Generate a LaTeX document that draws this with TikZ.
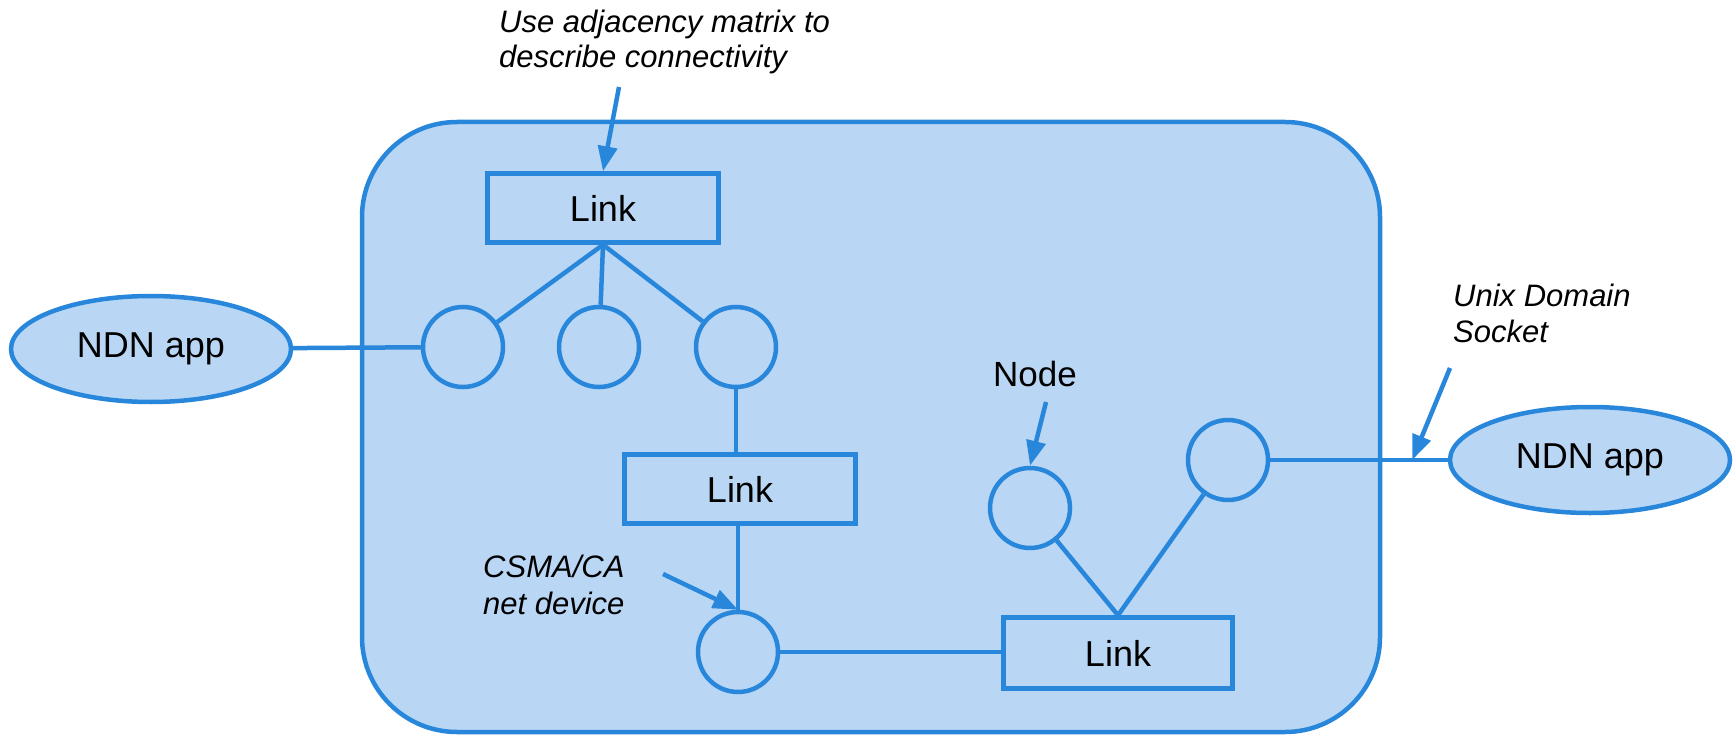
\documentclass[tikz,border=0pt]{standalone}
\usepackage{fontspec}
\setmainfont{Liberation Sans}
\usetikzlibrary{shapes.geometric,arrows.meta,calc}

\definecolor{netfill}{RGB}{185,215,245}
\definecolor{netline}{RGB}{40,135,219}

\tikzset{
  wire/.style={draw=netline, line width=4.5pt},
  pointer/.style={wire, -{Triangle[length=25pt,width=19pt]}},
  linkbox/.style={draw=netline, line width=4.5pt, fill=netfill, rectangle,
    minimum width=231pt, minimum height=69pt, inner sep=0pt,
    font=\fontsize{36}{40}\selectfont},
  device/.style={draw=netline, line width=4.5pt, fill=netfill, circle,
    minimum size=80pt, inner sep=0pt},
  app/.style={draw=netline, line width=4.5pt, fill=netfill, ellipse,
    minimum width=280pt, minimum height=106pt, inner sep=0pt,
    font=\fontsize{36}{40}\selectfont},
  note/.style={font=\itshape\fontsize{31}{36}\selectfont, inner sep=0pt, anchor=base west},
  tag/.style={font=\fontsize{35}{40}\selectfont, inner sep=0pt, anchor=base west}
}

\begin{document}
\begin{tikzpicture}[x=1pt, y=-1pt]
  \useasboundingbox (0,0) rectangle (1736,735);

  % simulation container
  \node[draw=netline, line width=4.5pt, fill=netfill, rectangle, rounded corners=95pt,
        minimum width=1018pt, minimum height=610pt, inner sep=0pt] (sim) at (871,427) {};

  % links
  \node[linkbox] (link1) at (603,208) {Link};
  \node[linkbox] (link2) at (740,489) {Link};
  \node[linkbox, minimum width=229pt, minimum height=71pt] (link3) at (1118,653) {Link};

  % net devices / nodes
  \node[device] (c1) at (463,347) {};
  \node[device] (c2) at (599,347) {};
  \node[device] (c3) at (736,347) {};
  \node[device] (c4) at (738,652) {};
  \node[device] (c5) at (1030,508) {};
  \node[device] (c6) at (1228,460) {};

  % applications
  \node[app] (app1) at (151,349) {NDN app};
  \node[app] (app2) at (1590,460) {NDN app};

  % connections
  \draw[wire] (link1.south) -- (c1);
  \draw[wire] (link1.south) -- (c2);
  \draw[wire] (link1.south) -- (c3);
  \draw[wire] (app1) -- (c1);
  \draw[wire] (c3) -- (c3 |- link2.north);
  \draw[wire] (c4 |- link2.south) -- (c4);
  \draw[wire] (c4) -- (c4 -| link3.west);
  \draw[wire] (link3.north) -- (c5);
  \draw[wire] (link3.north) -- (c6);
  \draw[wire] (c6) -- (app2);

  % annotations
  \node[note] (n1a) at (499,33) {Use adjacency matrix to};
  \node[note] (n1b) at (499,68) {describe connectivity};
  \coordinate (p1) at (619,87);
  \draw[pointer] (p1) -- (link1.north);

  \node[note] (n2a) at (483,577) {CSMA/CA};
  \node[note] (n2b) at (483,614) {net device};
  \coordinate (p2) at (663,574);
  \draw[pointer] (p2) -- (c4.north);

  \node[tag] (n3) at (993,386) {Node};
  \coordinate (p3) at (1046,402);
  \draw[pointer] (p3) -- (c5.north);

  \node[note] (n4a) at (1453,306) {Unix Domain};
  \node[note] (n4b) at (1453,342) {Socket};
  \coordinate (p4) at (1450,368);
  \coordinate (sock) at ($(c6.east)!0.8!(app2.west)$);
  \draw[pointer] (p4) -- (sock);
\end{tikzpicture}
\end{document}
